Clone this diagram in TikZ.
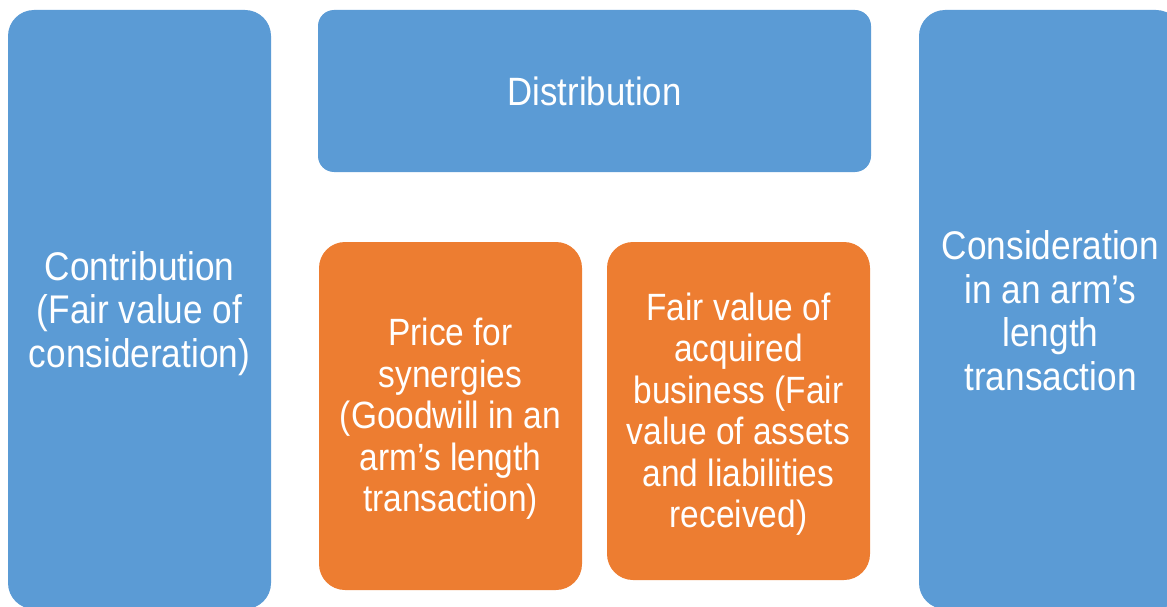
\documentclass[tikz,border=0pt]{standalone}
\usepackage{fontspec}
\setmainfont{Liberation Sans}[FakeStretch=0.88]
\definecolor{boxblue}{HTML}{5B9BD5}
\definecolor{boxorange}{HTML}{ED7D31}
\tikzset{
  panel/.style={draw=none, inner sep=0pt, outer sep=0pt},
  bluepanel/.style={panel, fill=boxblue},
  orangepanel/.style={panel, fill=boxorange},
  paneltext/.style={inner sep=0pt, text=white, align=center},
  bluetext/.style={paneltext, font=\fontsize{40}{43.5}\selectfont},
  orangetext/.style={paneltext, font=\fontsize{38}{41.5}\selectfont},
}
\begin{document}
\begin{tikzpicture}[x=1pt,y=-1pt]
\useasboundingbox (0,0) rectangle (1167,607);
\clip (0,0) rectangle (1167,607);
\node[bluepanel, rounded corners=26pt, minimum width=263pt, minimum height=599pt] (contrib) at (139.5,309.5) {};
\node[bluepanel, rounded corners=16pt, minimum width=553pt, minimum height=162pt] (distr) at (594.5,91) {};
\node[orangepanel, rounded corners=26pt, minimum width=263pt, minimum height=348pt] (price) at (450.5,416) {};
\node[orangepanel, rounded corners=26pt, minimum width=263pt, minimum height=338pt] (fair) at (738.5,411) {};
\node[bluepanel, rounded corners=26pt, minimum width=263pt, minimum height=599pt] (consid) at (1050.5,309.5) {};

\node[bluetext, yshift=-4pt] (contribtext) at (contrib.center) {Contribution\\(Fair value of\\consideration)};
\node[paneltext, font=\fontsize{39.5}{43}\selectfont] (distrtext) at (distr.center) {Distribution};
\node[orangetext, yshift=-3pt] (pricetext) at (price.center) {Price for\\synergies\\(Goodwill in an\\arm’s length\\transaction)};
\node[orangetext, yshift=-3pt] (fairtext) at (fair.center) {Fair value of\\acquired\\business (Fair\\value of assets\\and liabilities\\received)};
\node[bluetext, yshift=-1pt] (considtext) at (consid.center) {Consideration\\in an arm’s\\length\\transaction};
\end{tikzpicture}
\end{document}
